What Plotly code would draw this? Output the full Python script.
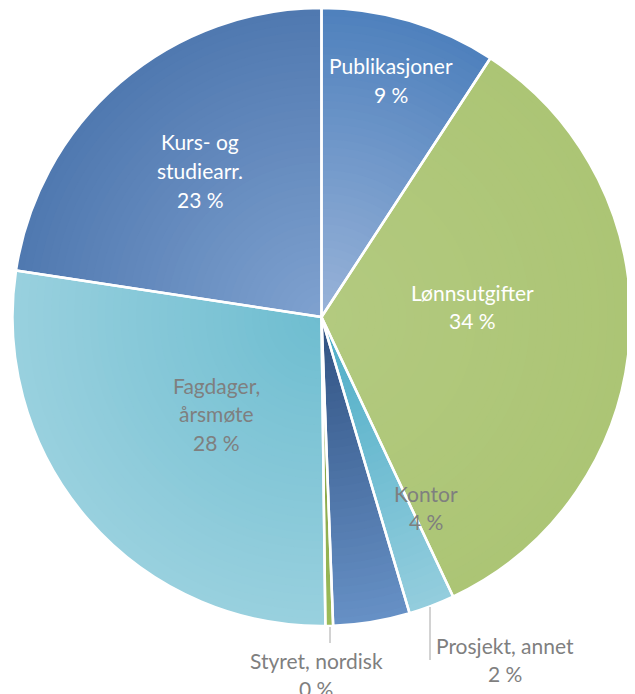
import plotly.graph_objects as go

# ---- data ----
categories = ["Publikasjoner", "Lønnsutgifter", "Prosjekt, annet", "Kontor",
              "Styret, nordisk", "Fagdager, årsmøte", "Kurs- og studiearr."]
shares = [9.2, 33.8, 2.4, 4.0, 0.4, 27.6, 22.6]
label_lines = [["Publikasjoner"], ["Lønnsutgifter"], ["Prosjekt, annet"], ["Kontor"],
               ["Styret, nordisk"], ["Fagdager,", "årsmøte"], ["Kurs- og", "studiearr."]]

# ---- style ----
OFF = 8  # page body margin
W, H = 635 - OFF, 694 - OFF
CX, CY, R = 321.5, 317.0, 309.0
rim_colors = ["#4F81BD", "#ACC575", "#93CDDD", "#6690C5", "#9BBB59", "#98D0DE", "#5079B0"]
center_colors = ["#9AB4D9", "#B3CA80", "#4BACC6", "#2F5080", "#77933C", "#6EBDD0", "#80A2D0"]
# label placement (text centre x, first line centre y, colour) in page pixels
label_style = [
    (391, 66, "white"),
    (472, 292, "white"),
    (505, 645, "#7F7F7F"),
    (426, 493, "#7F7F7F"),
    (316, 660, "#7F7F7F"),
    (216, 385, "#7F7F7F"),
    (200, 142, "white"),
]
leaders = {2: (430, 607, 660), 4: (330, 627, 643)}
LINE_H = 28.5
FONT = "Lato"
FSIZE = 21


def px(x):
    return (x - OFF) / W


def py(y):
    return 1 - (y - OFF) / H


def hex2rgb(h):
    h = h.lstrip("#")
    return tuple(int(h[i:i + 2], 16) for i in (0, 2, 4))


def lerp(c1, c2, t):
    a, b = hex2rgb(c1), hex2rgb(c2)
    return "rgb(%d,%d,%d)" % tuple(round(a[i] + (b[i] - a[i]) * t) for i in range(3))


def domain(r):
    return dict(x=[px(CX - r), px(CX + r)], y=[py(CY + r), py(CY - r)])


fig = go.Figure()
N = 40
for k in range(N):
    f = 1 - k / N
    cols = [lerp(center_colors[i], rim_colors[i], f) for i in range(len(shares))]
    fig.add_trace(go.Pie(labels=categories, values=shares, sort=False, direction="clockwise",
                         rotation=0, textinfo="none", hoverinfo="skip", showlegend=False,
                         marker=dict(colors=cols, line=dict(width=0)), domain=domain(R * f)))

# white separators on top
fig.add_trace(go.Pie(labels=categories, values=shares, sort=False, direction="clockwise",
                     rotation=0, textinfo="none", hoverinfo="label+percent", showlegend=False,
                     marker=dict(colors=["rgba(0,0,0,0)"] * len(shares),
                                 line=dict(color="white", width=2.5)),
                     domain=domain(R)))

total = sum(shares)
annotations = []
for i, v in enumerate(shares):
    x, y0, col = label_style[i]
    lines = label_lines[i] + ["%d %%" % round(100 * v / total)]
    for j, t in enumerate(lines):
        annotations.append(dict(text=t, x=px(x), y=py(y0 + j * LINE_H),
                                xref="paper", yref="paper", xanchor="center", yanchor="middle",
                                showarrow=False, font=dict(family=FONT, size=FSIZE, color=col)))

shapes = []
for i, (x, y1, y2) in leaders.items():
    shapes.append(dict(type="line", xref="paper", yref="paper", x0=px(x), x1=px(x),
                       y0=py(y1), y1=py(y2), line=dict(color="#A6A6A6", width=1)))

fig.update_layout(width=W, height=H, margin=dict(l=0, r=0, t=0, b=0),
                  paper_bgcolor="white", plot_bgcolor="white",
                  annotations=annotations, shapes=shapes)
fig.write_html("out.html")
